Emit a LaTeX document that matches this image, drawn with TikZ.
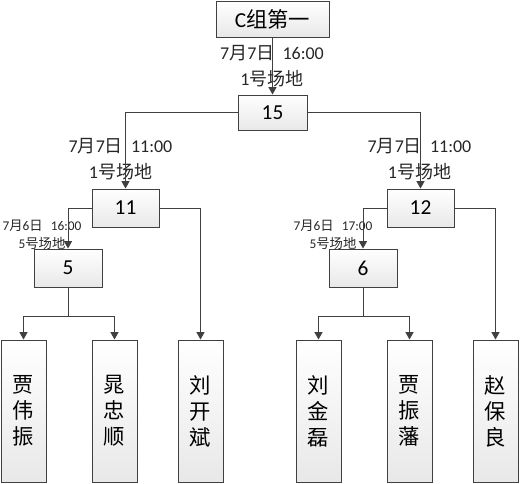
\documentclass[tikz,border=0pt]{standalone}
\usepackage{fontspec}
\setmainfont{Carlito}
\newfontfamily\cjk{Noto Sans CJK SC}
\usetikzlibrary{arrows.meta}
\definecolor{linegray}{RGB}{64,64,64}

\tikzset{
  matchbox/.style={draw=linegray, line width=0.75pt, top color=white, bottom color=black!9,
    inner sep=0pt, minimum width=50.25pt, minimum height=28.5pt, font=\fontsize{16}{19}\selectfont},
  namebox/.style={matchbox, minimum width=33.75pt, minimum height=106.5pt, align=center,
    font=\cjk\fontsize{16}{19.5}\selectfont},
  infotext/.style={inner sep=0pt, text=black!85, align=center, font=\fontsize{13.5}{20}\selectfont},
  smalltext/.style={infotext, font=\fontsize{10}{13.5}\selectfont},
  feed/.style={draw=linegray, line width=0.75pt, -{Triangle[width=6pt,length=5.5pt]}}
}

\begin{document}
\begin{tikzpicture}[x=0.75pt,y=0.75pt,yscale=-1,xscale=1]
\useasboundingbox (0,0) rectangle (521,483);

% boxes
\node [matchbox, minimum width=84.75pt, minimum height=27pt] (top) at (272.5,19) {C{\cjk 组第一}};
\node [matchbox, minimum width=51.75pt, minimum height=26.25pt] (m15) at (272.5,112.5) {15};
\node [matchbox] (m11) at (125.5,208) {11};
\node [matchbox] (m12) at (420.5,208) {12};
\node [matchbox, minimum width=51pt] (m5) at (68,268) {5};
\node [matchbox, minimum width=51pt] (m6) at (363,268) {6};

% players
\node [namebox] (p1) at (23.5,411) {贾\\伟\\振};
\node [namebox] (p2) at (114.5,411) {晁\\忠\\顺};
\node [namebox] (p3) at (200.5,411) {刘\\开\\斌};
\node [namebox] (p4) at (318.5,411) {刘\\金\\磊};
\node [namebox] (p5) at (409.5,411) {贾\\振\\藩};
\node [namebox] (p6) at (495.5,411) {赵\\保\\良};

% Text Node
\node [infotext] (t15) at (272,66) {7{\cjk 月}7{\cjk 日}\hspace{0.45em}16:00\\1{\cjk 号场地}};
% Text Node
\node [infotext] (t11) at (120.5,159) {7{\cjk 月}7{\cjk 日}\hspace{0.45em}11:00\\1{\cjk 号场地}};
% Text Node
\node [infotext] (t12) at (419.5,159) {7{\cjk 月}7{\cjk 日}\hspace{0.45em}11:00\\1{\cjk 号场地}};
% Text Node
\node [smalltext] (t5) at (42,235) {7{\cjk 月}6{\cjk 日}\hspace{0.6em}16:00\\5{\cjk 号场地}};
% Text Node
\node [smalltext] (t6) at (333,235) {7{\cjk 月}6{\cjk 日}\hspace{0.6em}17:00\\5{\cjk 号场地}};

% junctions under 5 and 6
\coordinate (j5) at (68,316);
\coordinate (j6) at (363,316);

% connectors
\draw [feed] (top.south) -- (m15.north);
\draw [feed] (m15.west) -| (m11.north);
\draw [feed] (m15.east) -| (m12.north);
\draw [feed] (m11.west) -| (m5.north);
\draw [feed] (m11.east) -| (p3.north);
\draw [feed] (m12.west) -| (m6.north);
\draw [feed] (m12.east) -| (p6.north);
\draw [draw=linegray, line width=0.75pt] (m5.south) -- (j5);
\draw [feed] (j5) -| (p1.north);
\draw [feed] (j5) -| (p2.north);
\draw [draw=linegray, line width=0.75pt] (m6.south) -- (j6);
\draw [feed] (j6) -| (p4.north);
\draw [feed] (j6) -| (p5.north);

\end{tikzpicture}
\end{document}
